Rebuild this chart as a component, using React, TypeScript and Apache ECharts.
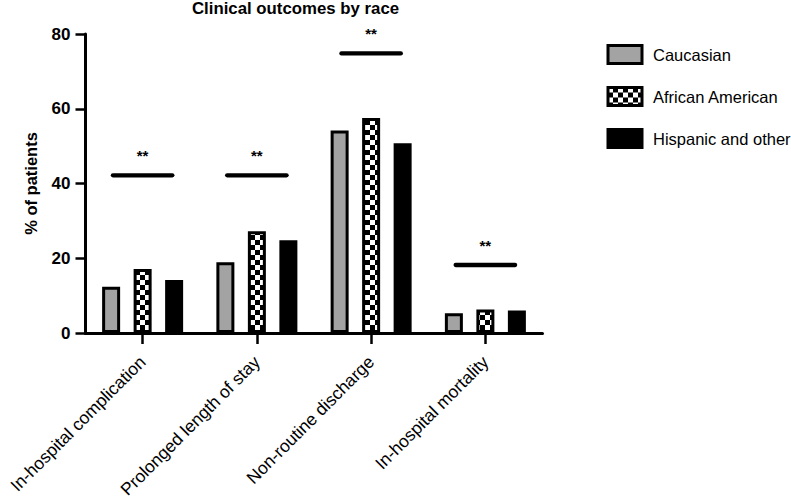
import React, { useEffect, useRef } from "react";
import * as echarts from "echarts";

const categories = [
  "In-hospital complication",
  "Prolonged length of stay",
  "Non-routine discharge",
  "In-hospital mortality",
];
const seriesNames = ["Caucasian", "African American", "Hispanic and other"];
const caucasian = [12.4, 18.9, 54.2, 5.3];
const africanAmerican = [17.1, 27.2, 57.5, 6.3];
const hispanicOther = [14.2, 24.8, 50.8, 6.0];
const significanceLevels = [42.2, 42.2, 74.8, 18.2];
const significanceLabels = ["**", "**", "**", "**"];

const FONT = "'Liberation Sans', Arial, Helvetica, sans-serif";

function makeChecker(): string {
  const c = document.createElement("canvas");
  c.width = 10;
  c.height = 10;
  const ctx = c.getContext("2d")!;
  ctx.fillStyle = "#ffffff";
  ctx.fillRect(0, 0, 10, 10);
  ctx.fillStyle = "#000000";
  ctx.fillRect(5, 0, 5, 5);
  ctx.fillRect(0, 5, 5, 5);
  return c.toDataURL();
}

export default function App() {
  const ref = useRef<HTMLDivElement>(null);
  useEffect(() => {
    document.body.style.margin = "0";
    const chart = echarts.init(ref.current!, null, { renderer: "svg" });
    const checker = {
      image: makeChecker(),
      repeat: "repeat",
      imageWidth: 10,
      imageHeight: 10,
    };
    const barCommon = {
      type: "bar",
      barWidth: 18,
      barGap: "75%",
    };
    chart.setOption({
      animation: false,
      title: {
        text: "Clinical outcomes by race",
        left: 192,
        top: 0,
        padding: 0,
        textStyle: { fontFamily: FONT, fontSize: 16.8, fontWeight: "bold", color: "#000" },
      },
      legend: {
        data: seriesNames,
        orient: "vertical",
        left: 606.5,
        top: 44,
        padding: 0,
        itemWidth: 34,
        itemHeight: 18,
        itemGap: 21,
        selectedMode: false,
        icon: "rect",
        itemStyle: { borderColor: "#000", borderWidth: 3 },
        textStyle: { fontFamily: FONT, fontSize: 16.5, color: "#000", padding: [0, 0, 0, 6] },
      },
      grid: {
        left: 85.5,
        right: 248.5,
        top: 34,
        bottom: 169,
        containLabel: false,
        outerBoundsMode: "none",
      },
      xAxis: {
        type: "category",
        data: categories,
        axisLine: { show: true, lineStyle: { color: "#000", width: 3 } },
        axisTick: {
          show: true,
          alignWithLabel: true,
          interval: 0,
          length: 11,
          lineStyle: { color: "#000", width: 2.5 },
        },
        axisLabel: {
          rotate: 45,
          align: "right",
          verticalAlign: "middle",
          margin: 26,
          interval: 0,
          fontFamily: FONT,
          fontSize: 17.5,
          color: "#000",
        },
      },
      yAxis: {
        type: "value",
        min: 0,
        max: 80,
        interval: 20,
        name: "% of patients",
        nameLocation: "middle",
        nameGap: 46,
        nameTextStyle: { fontFamily: FONT, fontSize: 16.5, fontWeight: "bold", color: "#000" },
        axisLine: { show: true, lineStyle: { color: "#000", width: 3 } },
        axisTick: { show: true, length: 10, lineStyle: { color: "#000", width: 2.5 } },
        axisLabel: { margin: 15, fontFamily: FONT, fontSize: 17, fontWeight: "bold", color: "#000" },
        splitLine: { show: false },
      },
      series: [
        {
          ...barCommon,
          name: seriesNames[0],
          data: caucasian,
          itemStyle: { color: "#a3a3a3", borderColor: "#000", borderWidth: 3 },
        },
        {
          ...barCommon,
          name: seriesNames[1],
          data: africanAmerican,
          itemStyle: { color: checker, borderColor: "#000", borderWidth: 3 },
        },
        {
          ...barCommon,
          name: seriesNames[2],
          data: hispanicOther,
          itemStyle: { color: "#000", borderColor: "#000", borderWidth: 3 },
        },
        {
          type: "custom",
          name: "significance",
          z: 10,
          data: significanceLevels.map((v, i) => [i, v]),
          renderItem: (params: any, api: any) => {
            const idx = api.value(0);
            const pt = api.coord([idx, api.value(1)]);
            const band = api.size([1, 0])[0];
            const half = band * 0.26;
            return {
              type: "group",
              children: [
                {
                  type: "line",
                  shape: { x1: pt[0] - half, y1: pt[1], x2: pt[0] + half, y2: pt[1] },
                  style: { stroke: "#000", lineWidth: 4.3, lineCap: "round" },
                },
                {
                  type: "text",
                  style: {
                    x: pt[0],
                    y: pt[1] - 19.5,
                    text: significanceLabels[params.dataIndex],
                    align: "center",
                    verticalAlign: "middle",
                    fontFamily: FONT,
                    fontSize: 15,
                    fontWeight: "bold",
                    fill: "#000",
                  },
                },
              ],
            };
          },
        },
      ],
    });
    return () => chart.dispose();
  }, []);
  return <div ref={ref} style={{ width: 791, height: 502 }} />;
}
